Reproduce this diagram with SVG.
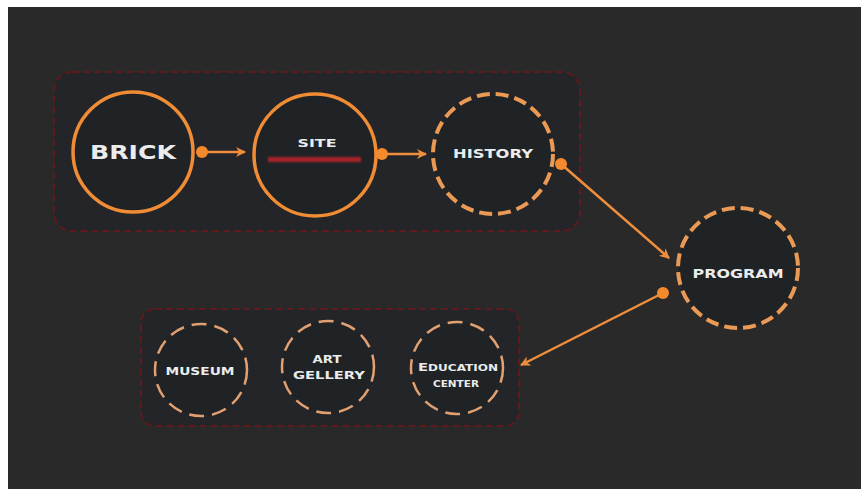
<svg xmlns="http://www.w3.org/2000/svg" width="861" height="489" viewBox="0 0 861 489">
  <style>
    .group-box { fill: #232528; stroke: #5e1a1c; stroke-width: 2; stroke-dasharray: 7 4; }
    .solid-ring { fill: #202326; stroke: #f08c34; stroke-width: 3.5; }
    .dash-ring { fill: #202326; stroke: #eb9a55; stroke-width: 4; stroke-dasharray: 13 6; }
    .small-ring { fill: #202326; stroke: #e2a070; stroke-width: 2.5; stroke-dasharray: 15 8; }
    .label { fill: #ececec; font-family: "DejaVu Sans", "Liberation Sans", sans-serif; font-weight: bold; text-anchor: middle; }
    .link { stroke: #ef8e3c; stroke-width: 2.5; fill: none; }
    .port { fill: #f58a2c; }
  </style>
  <defs>
    <marker id="arrow" viewBox="0 0 10 10" refX="9" refY="5" markerWidth="4" markerHeight="4" orient="auto" markerUnits="strokeWidth">
      <path d="M0,0 L10,5 L0,10 L3,5 Z" fill="#ef8e3c"/>
    </marker>
    <filter id="soft" x="-10%" y="-50%" width="120%" height="200%">
      <feGaussianBlur stdDeviation="1"/>
    </filter>
  </defs>

  <!-- canvas -->
  <rect x="0" y="0" width="861" height="489" fill="#ffffff"/>
  <rect x="8" y="7" width="853" height="482" fill="#292929"/>

  <!-- grouping frames -->
  <g id="frame-top">
    <rect class="group-box" x="54" y="72" width="526" height="159" rx="18"/>
  </g>
  <g id="frame-bottom">
    <rect class="group-box" x="141" y="309" width="378" height="117" rx="14"/>
  </g>

  <!-- connectors -->
  <g id="connectors">
    <line class="link" x1="202" y1="152" x2="245" y2="152" marker-end="url(#arrow)"/>
    <line class="link" x1="382" y1="154" x2="426" y2="154" marker-end="url(#arrow)"/>
    <line class="link" x1="561" y1="164" x2="669" y2="258" marker-end="url(#arrow)"/>
    <line class="link" x1="663" y1="293" x2="521" y2="365" marker-end="url(#arrow)"/>
    <circle class="port" cx="202" cy="152" r="6"/>
    <circle class="port" cx="382" cy="154" r="6"/>
    <circle class="port" cx="561" cy="164" r="6"/>
    <circle class="port" cx="663" cy="293" r="6"/>
  </g>

  <!-- nodes -->
  <g id="node-brick">
    <circle class="solid-ring" cx="133" cy="152" r="60"/>
    <text class="label" x="133" y="159" font-size="19" textLength="86" lengthAdjust="spacingAndGlyphs">BRICK</text>
  </g>

  <g id="node-site">
    <circle class="solid-ring" cx="315" cy="155" r="61"/>
    <text class="label" x="317" y="147" font-size="10" textLength="39" lengthAdjust="spacingAndGlyphs">SITE</text>
    <rect x="268" y="157" width="93" height="5" fill="#a8232a" filter="url(#soft)"/>
  </g>

  <g id="node-history">
    <circle class="dash-ring" cx="493" cy="154" r="60"/>
    <text class="label" x="493" y="158" font-size="12" textLength="80" lengthAdjust="spacingAndGlyphs">HISTORY</text>
  </g>

  <g id="node-program">
    <circle class="dash-ring" cx="738" cy="268" r="60"/>
    <text class="label" x="738" y="278" font-size="12" textLength="91" lengthAdjust="spacingAndGlyphs">PROGRAM</text>
  </g>

  <g id="node-museum">
    <circle class="small-ring" cx="201" cy="370" r="46"/>
    <text class="label" x="200" y="375" font-size="11" textLength="69" lengthAdjust="spacingAndGlyphs">MUSEUM</text>
  </g>

  <g id="node-art-gellery">
    <circle class="small-ring" cx="328" cy="367" r="46"/>
    <text class="label" x="327" y="363" font-size="11" textLength="29" lengthAdjust="spacingAndGlyphs">ART</text>
    <text class="label" x="329" y="379" font-size="11" textLength="72" lengthAdjust="spacingAndGlyphs">GELLERY</text>
  </g>

  <g id="node-education-center">
    <circle class="small-ring" cx="457" cy="368" r="46"/>
    <text class="label" x="458" y="371" font-size="9" textLength="80" lengthAdjust="spacingAndGlyphs"><tspan font-size="11">E</tspan>DUCATION</text>
    <text class="label" x="456" y="387" font-size="9" textLength="46" lengthAdjust="spacingAndGlyphs">CENTER</text>
  </g>
</svg>
